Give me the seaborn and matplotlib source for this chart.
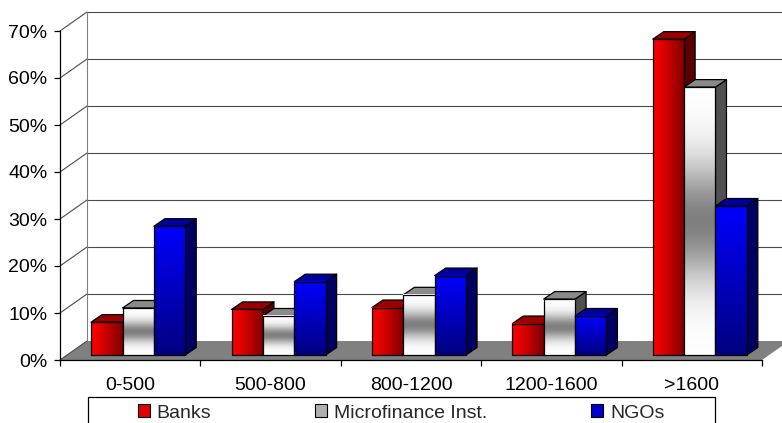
import numpy as np
import pandas as pd
import matplotlib
matplotlib.use("Agg")
import matplotlib.pyplot as plt
import seaborn as sns
from matplotlib.patches import Polygon, Rectangle, Patch

# ---- data (percent) ----
categories = ["0-500", "500-800", "800-1200", "1200-1600", ">1600"]
series = ["Banks", "Microfinance Inst.", "NGOs"]
banks = [7.0, 9.7, 10.1, 6.7, 67.2]
micro = [10.0, 8.3, 12.8, 11.9, 57.0]
ngos = [27.4, 15.6, 16.9, 8.3, 31.7]
y_ticks = [0, 10, 20, 30, 40, 50, 60, 70]
y_tick_labels = ["0%", "10%", "20%", "30%", "40%", "50%", "60%", "70%"]

df = pd.DataFrame({
    "category": categories * 3,
    "series": [series[0]] * 5 + [series[1]] * 5 + [series[2]] * 5,
    "value": banks + micro + ngos,
})

sns.set_style("white")
plt.rcParams["font.family"] = ["Liberation Sans", "DejaVu Sans"]

W, H = 782, 423
fig = plt.figure(figsize=(W / 100, H / 100), dpi=100)
ax = fig.add_axes([60 / W, (H - 360) / H, 702 / W, 329 / H])

front_colors = {"Banks": "#ff0000", "Microfinance Inst.": "#c0c0c0", "NGOs": "#0000ff"}
sns.barplot(data=df, x="category", y="value", hue="series", order=categories,
            hue_order=series, palette=[front_colors[s] for s in series],
            width=0.67, saturation=1, errorbar=None, legend=False, ax=ax)

ax.set_xlim(-0.5, 4.5)
ax.set_ylim(0, 70)

# pixel -> data scale
px_x = 1 / 140.4
px_y = 1 / 4.7
bar_dx, bar_dy = 8 * px_x, 5 * px_y        # bars sit a little inside the floor
dep_dx, dep_dy = 11 * px_x, 7.5 * px_y     # bar depth
back_dx, back_dy = 27 * px_x, 19 * px_y    # wall depth

grid_col = "#4a4a4a"
# floor
ax.add_patch(Polygon([(-0.5, 0), (4.5, 0), (4.5 + back_dx, back_dy), (-0.5 + back_dx, back_dy)],
                     closed=True, facecolor="#808080", edgecolor="none", zorder=0.5, clip_on=False))
# back wall gridlines and left wall
for v in y_ticks[1:]:
    ax.plot([-0.5 + back_dx, 4.5 + back_dx], [v + back_dy, v + back_dy], color=grid_col,
            lw=0.8, zorder=0.4, clip_on=False)
    ax.plot([-0.5, -0.5 + back_dx], [v, v + back_dy], color=grid_col, lw=0.8, zorder=0.4, clip_on=False)
ax.plot([-0.5 + back_dx, -0.5 + back_dx], [back_dy, 70 + back_dy], color="#808080", lw=0.8,
        zorder=0.4, clip_on=False)
ax.plot([-0.5, -0.5 + back_dx], [0, back_dy], color=grid_col, lw=0.8, zorder=0.6, clip_on=False)

# gradients
N = 256
t = np.linspace(0, 1, N)
red_grad = np.zeros((1, N, 3)); red_grad[0, :, 0] = 1.0 - 0.52 * t ** 1.2
gray_v = 1.0 - 0.5 * np.exp(-((t - 0.5) / 0.22) ** 2)
gray_grad = np.repeat(gray_v[:, None, None], 3, axis=2)
blue_grad = np.zeros((N, 1, 3)); blue_grad[:, 0, 2] = 1.0 - 0.5 * t  # row 0 = top (origin upper)

top_cols = {"Banks": "#9a0000", "Microfinance Inst.": "#8a8a8a", "NGOs": "#00009c"}
side_cols = {"Banks": "#5a0000", "Microfinance Inst.": "#505050", "NGOs": "#000062"}
grads = {"Banks": red_grad, "Microfinance Inst.": gray_grad, "NGOs": blue_grad}

bars = [p for p in ax.patches if isinstance(p, Rectangle) and p.get_width() < 0.5]
bars_sorted = sorted(bars, key=lambda p: p.get_x())
for i, p in enumerate(bars_sorted):
    fc = matplotlib.colors.to_hex(p.get_facecolor())
    s = [k for k, c in front_colors.items() if matplotlib.colors.to_hex(c) == fc][0]
    x0 = p.get_x() + bar_dx
    w = p.get_width()
    h = p.get_height()
    x1 = x0 + w
    y0 = bar_dy
    y1 = bar_dy + h
    z = 2 + i * 0.1
    side = Polygon([(x1, y0), (x1 + dep_dx, y0 + dep_dy), (x1 + dep_dx, y1 + dep_dy), (x1, y1)],
                   closed=True, facecolor=side_cols[s], edgecolor="black", lw=0.9, zorder=z,
                   clip_on=False, joinstyle="round")
    top = Polygon([(x0, y1), (x1, y1), (x1 + dep_dx, y1 + dep_dy), (x0 + dep_dx, y1 + dep_dy)],
                  closed=True, facecolor=top_cols[s], edgecolor="black", lw=0.9, zorder=z + 0.01,
                  clip_on=False, joinstyle="round")
    ax.add_patch(side)
    ax.add_patch(top)
    im = ax.imshow(grads[s], extent=[x0, x1, y0, y1], aspect="auto", origin="upper",
                   interpolation="bilinear", zorder=z + 0.02)
    im.set_clip_on(False)
    p.set_x(x0)
    p.set_y(y0)
    p.set_facecolor("none")
    p.set_edgecolor("black")
    p.set_linewidth(0.9)
    p.set_zorder(z + 0.03)
    p.set_clip_on(False)

ax.set_xlim(-0.5, 4.5)
ax.set_ylim(0, 70)

# axes styling
for sp in ["top", "right"]:
    ax.spines[sp].set_visible(False)
for sp in ["left", "bottom"]:
    ax.spines[sp].set_color("black")
    ax.spines[sp].set_linewidth(0.9)
    ax.spines[sp].set_zorder(1)
ax.set_xlabel("")
ax.set_ylabel("")
ax.set_yticks(y_ticks)
ax.set_yticklabels(y_tick_labels)
ax.set_xticks(range(len(categories)))
ax.set_xticklabels(categories)
ax.set_xticks(np.arange(-0.5, 5.0, 1.0), minor=True)
ax.tick_params(axis="x", which="major", length=0, pad=12, labelsize=14, colors="black")
ax.tick_params(axis="x", which="minor", length=4, width=0.9, direction="out", color="black", bottom=True)
ax.tick_params(axis="y", length=4, width=0.9, direction="out", pad=5, labelsize=14,
               colors="black", left=True)
ax.grid(False)
ax.set_facecolor("none")
fig.patch.set_facecolor("white")

# legend box and legend
fig.add_artist(Rectangle((88 / W, -0.1), (715 - 88) / W, 0.1 + (H - 397) / H,
                         transform=fig.transFigure, facecolor="white", edgecolor="black",
                         lw=0.9, zorder=0))
leg_handles = [Patch(facecolor="#e00000", edgecolor="black", lw=0.8),
               Patch(facecolor="#b0b0b0", edgecolor="black", lw=0.8),
               Patch(facecolor="#0000d0", edgecolor="black", lw=0.8)]
fig.legend(leg_handles, series, loc="center left", bbox_to_anchor=(128 / W, 1 - 413 / H),
           ncol=3, frameon=False, borderpad=0, handlelength=0.62, handleheight=0.62,
           handletextpad=0.35, columnspacing=5.35, prop={"family": "Liberation Sans", "size": 14})

fig.savefig("out.png", dpi=100)
